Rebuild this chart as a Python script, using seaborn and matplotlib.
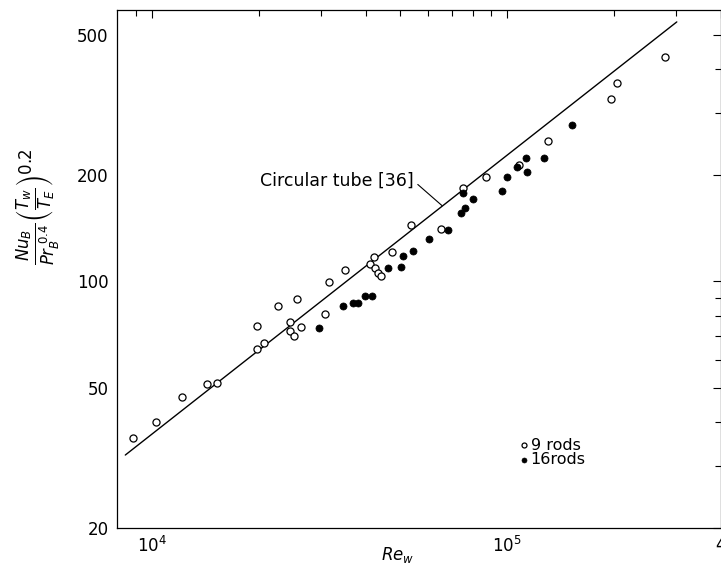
import pandas as pd
import seaborn as sns
import matplotlib.pyplot as plt
from matplotlib.ticker import FixedLocator, FixedFormatter, NullFormatter

# 9 rods (open circles)
re_9 = [8840, 10260, 12150, 14290, 15250, 19760, 20680, 19760, 22640, 25610,
        24470, 24470, 25120, 26280, 30710, 31520, 34970, 41130, 42210, 42490,
        43320, 44170, 47450, 53650, 65190, 75160, 87280, 108100, 130500,
        196300, 204100, 278700]
nu_9 = [36.0, 40.0, 47.0, 51.2, 51.5, 64.4, 66.9, 74.8, 85.2, 89.2,
        76.8, 72.4, 70.0, 74.3, 80.9, 99.7, 107.8, 112.1, 117.3, 109.2,
        105.7, 103.6, 121.2, 144.6, 140.9, 184.1, 197.8, 213.9, 250.2,
        329.1, 365.3, 432.9]

# 16 rods (filled circles)
re_16 = [29540, 34510, 36830, 38040, 39810, 41670, 46220, 50290, 50930, 54350,
         60300, 68200, 74200, 76140, 75160, 80230, 96810, 100000, 106700,
         113100, 113800, 127200, 152500]
nu_16 = [73.8, 85.2, 86.9, 86.9, 90.9, 90.9, 109.2, 109.9, 118.1, 122.0,
         131.9, 140.0, 156.4, 161.6, 178.2, 171.3, 180.5, 197.8, 211.1,
         223.9, 204.4, 223.9, 277.7]

# circular tube correlation [36]
re_line = [8400, 301000]
nu_line = [32.2, 544]

y_ticks = [20, 50, 100, 200, 500]
y_minor = [30, 40, 60, 70, 80, 90, 300, 400]
x_ticks = [1e4, 1e5, 4e5]
x_tick_labels = ['$10^4$', '$10^5$', '4']
x_minor = [9e3, 2e4, 3e4, 4e4, 5e4, 6e4, 7e4, 8e4, 9e4, 2e5, 3e5]

df9 = pd.DataFrame({'Re': re_9, 'Nu': nu_9})
df16 = pd.DataFrame({'Re': re_16, 'Nu': nu_16})
line_df = pd.DataFrame({'Re': re_line, 'Nu': nu_line})

sns.set_theme(style='white', rc={'text.color': 'black', 'xtick.color': 'black',
                                 'ytick.color': 'black', 'axes.labelcolor': 'black'})
plt.rcParams['font.family'] = ['DejaVu Sans']
plt.rcParams['mathtext.fontset'] = 'dejavusans'

fig = plt.figure(figsize=(7.21, 5.64), dpi=100)
ax = fig.add_axes([117 / 721, 36 / 564, 604 / 721, 518 / 564])
ax.set_xscale('log')
ax.set_yscale('log')

sns.lineplot(data=line_df, x='Re', y='Nu', color='black', lw=1.0, ax=ax)
sns.scatterplot(data=df9, x='Re', y='Nu', marker='o', s=26, facecolor='white',
                edgecolor='black', linewidth=0.9, label='9 rods', ax=ax, zorder=3)
sns.scatterplot(data=df16, x='Re', y='Nu', marker='o', s=26, color='black',
                edgecolor='black', linewidth=0.5, label='16rods', ax=ax, zorder=3)

ax.set_xlim(7960, 4.01e5)
ax.set_ylim(20, 588)

ax.xaxis.set_major_locator(FixedLocator(x_ticks))
ax.xaxis.set_major_formatter(FixedFormatter(x_tick_labels))
ax.xaxis.set_minor_locator(FixedLocator(x_minor))
ax.xaxis.set_minor_formatter(NullFormatter())
ax.yaxis.set_major_locator(FixedLocator(y_ticks))
ax.yaxis.set_major_formatter(FixedFormatter([str(v) for v in y_ticks]))
ax.yaxis.set_minor_locator(FixedLocator(y_minor))
ax.yaxis.set_minor_formatter(NullFormatter())

ax.tick_params(which='both', direction='in', top=True, right=True,
               color='black', labelcolor='black', labelsize=12, width=0.8)
ax.tick_params(which='major', length=6, pad=6)
ax.tick_params(which='minor', length=4)
for sp in ax.spines.values():
    sp.set_color('black')
    sp.set_linewidth(0.9)

ax.set_xlabel('')
ax.set_ylabel('')
ax.text(0.464, -0.052, '$Re_w$', transform=ax.transAxes, ha='center',
        va='center', fontsize=12)
ax.text(-0.13, 0.62,
        r'$\frac{Nu_B}{Pr_B^{\ 0.4}}\left(\frac{T_w}{T_E}\right)^{0.2}$',
        transform=ax.transAxes, rotation=90, ha='center', va='center',
        fontsize=17)

ax.annotate('Circular tube [36]', xy=(65600, 164), xytext=(54500, 193),
            textcoords='data', ha='right', va='center', fontsize=12.5,
            arrowprops=dict(arrowstyle='-', color='black', lw=0.8,
                            relpos=(1, 0.5), shrinkA=1, shrinkB=0))

ax.legend(loc='upper left', bbox_to_anchor=(0.645, 0.19), frameon=False,
          fontsize=11.5, handletextpad=-0.2, labelspacing=-0.05,
          handlelength=1.2, markerscale=0.7, borderpad=0)

fig.savefig('out.png', dpi=100)
